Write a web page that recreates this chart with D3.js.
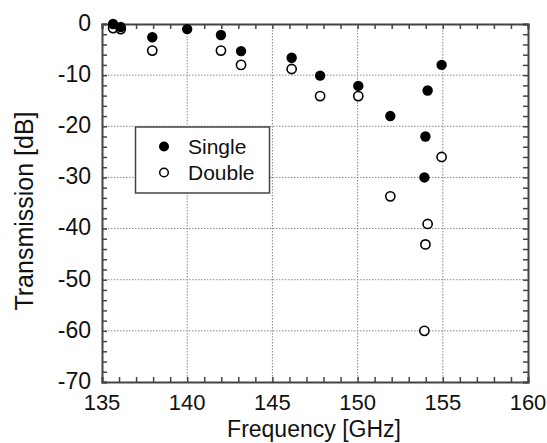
<!DOCTYPE html>
<html><head><meta charset="utf-8">
<script src="https://cdn.jsdelivr.net/npm/d3@7"></script>
<style>body{margin:0;background:#fff}svg{display:block}text{font-family:"Liberation Sans",Arial,sans-serif;fill:#111}</style>
</head><body><div id="c"></div>
<script>
const singleFreq = [135.65, 136.1, 137.95, 140.0, 141.98, 143.16, 146.13, 147.8, 150.04, 151.92, 154.11, 154.93, 153.98, 153.92];
const singleDb   = [0.0, -0.6, -2.6, -1.0, -2.15, -5.3, -6.6, -10.1, -12.1, -18.0, -13.0, -8.0, -22.0, -30.0];
const doubleFreq = [135.65, 136.1, 137.95, 141.98, 143.16, 146.13, 147.8, 150.04, 154.93, 151.92, 154.11, 153.98, 153.92];
const doubleDb   = [-0.8, -1.0, -5.2, -5.2, -8.0, -8.8, -14.1, -14.1, -26.0, -33.7, -39.1, -43.1, -60.0];
const xTicks = [135, 140, 145, 150, 155, 160];
const yTicks = [0, -10, -20, -30, -40, -50, -60, -70];
const seriesNames = ["Single", "Double"];

const W = 547, H = 443;
const L = 102, R = 528, T = 24, B = 382;
const svg = d3.select("#c").append("svg").attr("width", W).attr("height", H);
const x = d3.scaleLinear().domain([135, 160]).range([L, R]);
const y = d3.scaleLinear().domain([-70, 0]).range([B, T]);
const axisCol = "#444";

// grid
const g = svg.append("g");
g.selectAll("line.gx").data(xTicks.slice(1, -1)).join("line")
  .attr("x1", d => x(d)).attr("x2", d => x(d)).attr("y1", T).attr("y2", B)
  .attr("stroke", "#888").attr("stroke-width", 1).attr("stroke-dasharray", "1.5,1.5");
g.selectAll("line.gy").data(yTicks.slice(1, -1)).join("line")
  .attr("y1", d => y(d)).attr("y2", d => y(d)).attr("x1", L).attr("x2", R)
  .attr("stroke", "#888").attr("stroke-width", 1).attr("stroke-dasharray", "1.5,1.5");

// axes with inward ticks
const xMinor = d3.range(135, 161, 1);
const yMinor = d3.range(-70, 1, 2);
const axB = svg.append("g").attr("transform", `translate(0,${B})`)
  .call(d3.axisBottom(x).tickValues(xMinor).tickSize(-5).tickFormat(""));
const axT = svg.append("g").attr("transform", `translate(0,${T})`)
  .call(d3.axisTop(x).tickValues(xMinor).tickSize(-5).tickFormat(""));
const axL = svg.append("g").attr("transform", `translate(${L},0)`)
  .call(d3.axisLeft(y).tickValues(yMinor).tickSize(-5).tickFormat(""));
const axR = svg.append("g").attr("transform", `translate(${R},0)`)
  .call(d3.axisRight(y).tickValues(yMinor).tickSize(-5).tickFormat(""));
[axB, axT, axL, axR].forEach(a => {
  a.selectAll("path").attr("stroke", axisCol).attr("stroke-width", 2);
  a.selectAll("line").attr("stroke", axisCol).attr("stroke-width", 1.5);
});

// tick labels
svg.append("g").selectAll("text").data(xTicks).join("text")
  .attr("x", d => x(d)).attr("y", 410).attr("text-anchor", "middle")
  .attr("font-size", 22).text(d => d);
svg.append("g").selectAll("text").data(yTicks).join("text")
  .attr("x", 91).attr("y", d => y(d)).attr("dy", "0.3em").attr("text-anchor", "end")
  .attr("font-size", 23).text(d => d);

// axis titles
svg.append("text").attr("x", 314).attr("y", 437).attr("text-anchor", "middle")
  .attr("font-size", 23).text("Frequency [GHz]");
svg.append("text").attr("transform", `translate(33,211) rotate(-90)`)
  .attr("text-anchor", "middle").attr("font-size", 25).text("Transmission [dB]");

// data
const singleData = singleFreq.map((f, i) => ({ f, v: singleDb[i] }));
const doubleData = doubleFreq.map((f, i) => ({ f, v: doubleDb[i] }));
svg.append("g").selectAll("circle").data(doubleData).join("circle")
  .attr("cx", d => x(d.f)).attr("cy", d => y(d.v)).attr("r", 4.6)
  .attr("fill", "#fff").attr("stroke", "#000").attr("stroke-width", 1.6);
svg.append("g").selectAll("circle").data(singleData).join("circle")
  .attr("cx", d => x(d.f)).attr("cy", d => y(d.v)).attr("r", 5.2)
  .attr("fill", "#000");

// legend
const lg = svg.append("g");
lg.append("rect").attr("x", 135.5).attr("y", 127).attr("width", 134).attr("height", 66)
  .attr("fill", "#fff").attr("stroke", axisCol).attr("stroke-width", 1.5);
seriesNames.forEach((n, i) => {
  const cy = 146.5 + i * 26;
  if (i === 0) lg.append("circle").attr("cx", 164).attr("cy", cy).attr("r", 5).attr("fill", "#000");
  else lg.append("circle").attr("cx", 164).attr("cy", cy).attr("r", 4.3).attr("fill", "#fff").attr("stroke", "#000").attr("stroke-width", 1.5);
  lg.append("text").attr("x", 188).attr("y", cy).attr("dy", "0.36em").attr("font-size", 21).text(n);
});
</script></body></html>
